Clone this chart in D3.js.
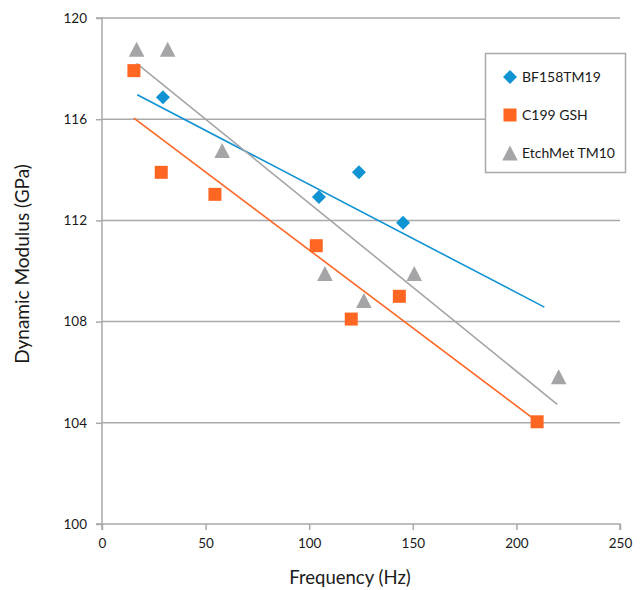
<!DOCTYPE html>
<html><head><meta charset="utf-8">
<script src="https://cdn.jsdelivr.net/npm/d3@7"></script>
<style>
html,body{margin:0;padding:0;background:#fff;}
svg{display:block;font-family:Lato,"Gill Sans","Noto Sans",sans-serif;}
</style></head>
<body>
<svg id="chart" width="640" height="590"></svg>
<script>
// ---- data ----
const seriesNames = ["BF158TM19", "C199 GSH", "EtchMet TM10"];
const bfX = [29.4, 104.7, 124.0, 145.3];
const bfY = [116.87, 112.92, 113.9, 111.91];
const cX = [15.4, 28.6, 54.5, 103.4, 120.3, 143.5, 210.0];
const cY = [117.92, 113.9, 113.03, 111.0, 108.1, 109.0, 104.04];
const eX = [16.7, 31.7, 58.0, 107.6, 126.4, 150.7, 220.4];
const eY = [118.76, 118.76, 114.76, 109.9, 108.83, 109.9, 105.82];
// linear trendlines: y = slope*x + intercept, drawn from..to
const trendSlope = [-0.0427, -0.0616, -0.0664];
const trendIntercept = [117.69, 116.99, 119.32];
const trendFrom = [17.0, 15.4, 16.7];
const trendTo = [213.5, 210.0, 219.7];
const xTicks = [0, 50, 100, 150, 200, 250];
const yTicks = [100, 104, 108, 112, 116, 120];
const colors = ["#0f93d3", "#fe6622", "#a5a5a8"];
const shapes = ["diamond", "square", "triangle"];

const svg = d3.select("#chart");
const L = 102, R = 620, T = 18, B = 524;
const x = d3.scaleLinear().domain([0, 250]).range([L, R]);
const y = d3.scaleLinear().domain([100, 120]).range([B, T]);
const gridColor = "#a9a9ab";

// gridlines
svg.append("g").selectAll("line").data(yTicks.filter(d => d > 100)).join("line")
  .attr("x1", L).attr("x2", R).attr("y1", d => y(d)).attr("y2", d => y(d))
  .attr("stroke", gridColor).attr("stroke-width", 1.5);

// axes
const yAxis = d3.axisLeft(y).tickValues(yTicks).tickSize(6).tickPadding(9).tickFormat(d3.format("d"));
const gy = svg.append("g").attr("transform", `translate(${L},0)`).call(yAxis);
const xAxis = d3.axisBottom(x).tickValues(xTicks).tickSize(6).tickPadding(8).tickFormat(d3.format("d"));
const gx = svg.append("g").attr("transform", `translate(0,${B})`).call(xAxis);
[gx, gy].forEach(g => {
  g.select(".domain").attr("stroke", gridColor).attr("stroke-width", 1.5);
  g.selectAll(".tick line").attr("stroke", gridColor).attr("stroke-width", 1.5);
  g.selectAll(".tick text").attr("fill", "#1a1a1a").attr("font-size", 13.5)
    .attr("font-family", "Lato, sans-serif");
});
gy.select(".domain").attr("d", `M-6,${y(100)}H0V${y(120)}H-6`);
gx.select(".domain").attr("d", `M${L},6V0H${R}V6`);

// axis titles
svg.append("text").attr("x", 350).attr("y", 584).attr("text-anchor", "middle")
  .attr("font-size", 18.5).attr("fill", "#1a1a1a").text("Frequency (Hz)");
svg.append("text").attr("transform", `translate(29,264) rotate(-90)`)
  .attr("text-anchor", "middle").attr("font-size", 19).attr("fill", "#1a1a1a")
  .text("Dynamic Modulus (GPa)");

// trendlines
const tg = svg.append("g");
seriesNames.forEach((n, i) => {
  tg.append("line")
    .attr("x1", x(trendFrom[i])).attr("y1", y(trendSlope[i] * trendFrom[i] + trendIntercept[i]))
    .attr("x2", x(trendTo[i])).attr("y2", y(trendSlope[i] * trendTo[i] + trendIntercept[i]))
    .attr("stroke", colors[i]).attr("stroke-width", 1.6);
});

// markers
function marker(sel, shape, color) {
  if (shape === "diamond") sel.append("path").attr("d", "M0,-7L7,0L0,7L-7,0Z").attr("fill", color);
  else if (shape === "square") sel.append("rect").attr("x", -6.5).attr("y", -6.5).attr("width", 13).attr("height", 13).attr("fill", color);
  else sel.append("path").attr("d", "M0,-7.5L7.8,7.5L-7.8,7.5Z").attr("fill", color);
}
const allX = [bfX, cX, eX], allY = [bfY, cY, eY];
allX.forEach((xs, i) => {
  const g = svg.append("g");
  xs.forEach((xv, j) => {
    const m = g.append("g").attr("transform", `translate(${x(xv)},${y(allY[i][j])})`);
    marker(m, shapes[i], colors[i]);
  });
});

// legend
const lg = svg.append("g");
lg.append("rect").attr("x", 485.5).attr("y", 53.5).attr("width", 140).attr("height", 119)
  .attr("fill", "#fff").attr("stroke", "#a9a9ab").attr("stroke-width", 1.5);
seriesNames.forEach((n, i) => {
  const cy = 77 + i * 38;
  const m = lg.append("g").attr("transform", `translate(510,${cy})`);
  marker(m, shapes[i], colors[i]);
  lg.append("text").attr("x", 522).attr("y", cy + 5).attr("font-size", 14).attr("fill", "#1a1a1a").text(n);
});
</script>
</body></html>
